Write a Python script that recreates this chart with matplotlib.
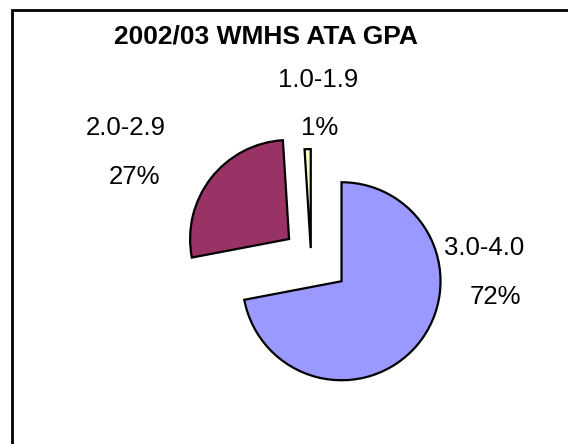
import matplotlib
matplotlib.use('Agg')
import matplotlib.pyplot as plt
from matplotlib.patches import Rectangle

# GPA bands, share of students
categories = ['3.0-4.0', '2.0-2.9', '1.0-1.9']
shares = [72, 27, 1]
colors = ['#9999FF', '#993366', '#FFFFCC']

plt.rcParams['font.family'] = ['Liberation Sans', 'DejaVu Sans']

W, H = 568, 444
R = 99
fig = plt.figure(figsize=(W / 100, H / 100), dpi=100)
ax = fig.add_axes([0, 0, 1, 1])

# pie's explode offset is added in data units, so scale by the radius
explode = [0.40 * R, 0.28 * R, 0.08 * R]

# first slice from 12 o'clock going clockwise (like Excel)
ax.pie(shares, colors=colors, explode=explode, startangle=90,
       counterclock=False, radius=R, center=(311, H - 256), frame=True,
       wedgeprops=dict(edgecolor='black', linewidth=1.6))

ax.set_xlim(0, W)
ax.set_ylim(0, H)
ax.set_aspect('equal')
ax.axis('off')

# chart frame (only top and left edges visible in the crop)
ax.add_patch(Rectangle((12, -20), W + 20, H - 10 + 20, fill=False,
                       edgecolor='black', linewidth=2, clip_on=False))

ax.text(266, H - 37, '2002/03 WMHS ATA GPA', ha='center', va='center',
        fontsize=19, fontweight='bold')

# data labels: name on top, percent below
label_pos = [((484, 248), (495, 297)),
             ((126, 128), (135, 177)),
             ((318, 80), (320, 128))]
for name, val, (p1, p2) in zip(categories, shares, label_pos):
    ax.text(p1[0], H - p1[1], name, ha='center', va='center', fontsize=18.5)
    ax.text(p2[0], H - p2[1], f'{val}%', ha='center', va='center', fontsize=18.5)

fig.savefig('out.png', dpi=100)
